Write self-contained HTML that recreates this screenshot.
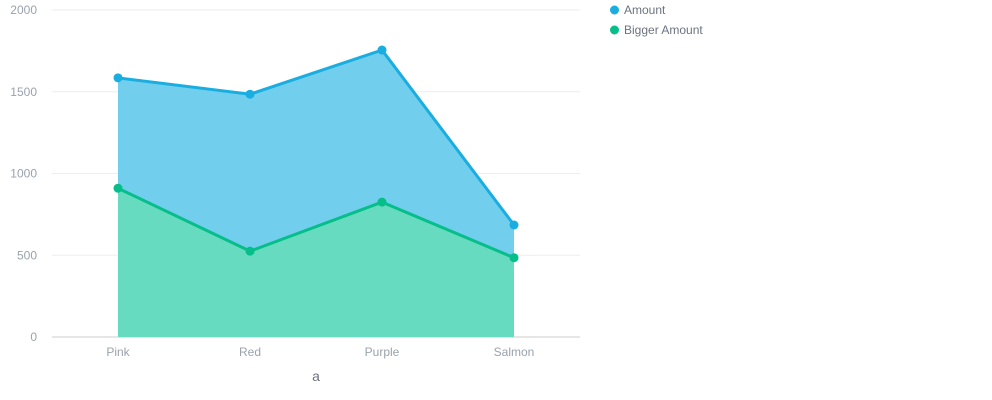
<!DOCTYPE html>
<html><head><meta charset="utf-8">
<style>
body{margin:0;background:#fff;font-family:"Liberation Sans",sans-serif;}
svg{display:block}
</style></head>
<body>
<svg id="chart" width="992" height="400"></svg>
<script>
const categories=["Pink","Red","Purple","Salmon"];
const amountValues=[1585,1485,1755,685];
const biggerValues=[910,525,825,485];
const yTicks=[0,500,1000,1500,2000];
const seriesNames=["Amount","Bigger Amount"];

const NS="http://www.w3.org/2000/svg";
const svg=document.getElementById('chart');
const L=52,R=580,T=10,B=337,yMax=2000;
const band=(R-L)/categories.length;
function x(i){return L+band*(i+0.5);}
function y(v){return B-(v/yMax)*(B-T);}
function el(tag,attrs,parent){const e=document.createElementNS(NS,tag);for(const k in attrs)e.setAttribute(k,attrs[k]);(parent||svg).appendChild(e);return e;}

yTicks.forEach(t=>{
  const g=el('line',{x1:L,x2:R,y1:y(t),y2:y(t),stroke:t===0?'#ccc':'#eee','stroke-width':1});
  
  
  const lb=el('text',{x:37,y:y(t)+4,'text-anchor':'end','font-size':12,fill:'#9aa2ad'});
  lb.textContent=t;
  
  
});
categories.forEach((c,i)=>{
  const lb=el('text',{x:x(i),y:356,'text-anchor':'middle','font-size':12,fill:'#9aa2ad'});
  lb.textContent=c;
  
  
});
const xt=el('text',{x:316,y:381,'text-anchor':'middle','font-size':14,fill:'#6b7380'});
xt.textContent='a';



function series(vals,fill,stroke,name){
  let line=vals.map((v,i)=>(i?'L':'M')+x(i)+','+y(v)).join(' ');
  const area=el('path',{d:line+' L'+x(vals.length-1)+','+B+' L'+x(0)+','+B+' Z',fill:fill});
  
  
  const ln=el('path',{d:line,fill:'none',stroke:stroke,'stroke-width':3});
  
  
  vals.forEach((v,i)=>{
    const p=el('circle',{cx:x(i),cy:y(v),r:4.5,fill:stroke});
    
    
  });
}
series(amountValues,'#71cfed','#1aaee0','amount');
series(biggerValues,'#66dbbf','#06be89','bigger-amount');

const colors=['#1aaee0','#06be89'];
seriesNames.forEach((n,i)=>{
  const c=el('circle',{cx:614.5,cy:10+i*20,r:4.5,fill:colors[i]});
  
  
  const t=el('text',{x:624,y:14+i*20,'font-size':12,fill:'#6b7380'});
  t.textContent=n;
  
  
});
</script>
</body></html>
